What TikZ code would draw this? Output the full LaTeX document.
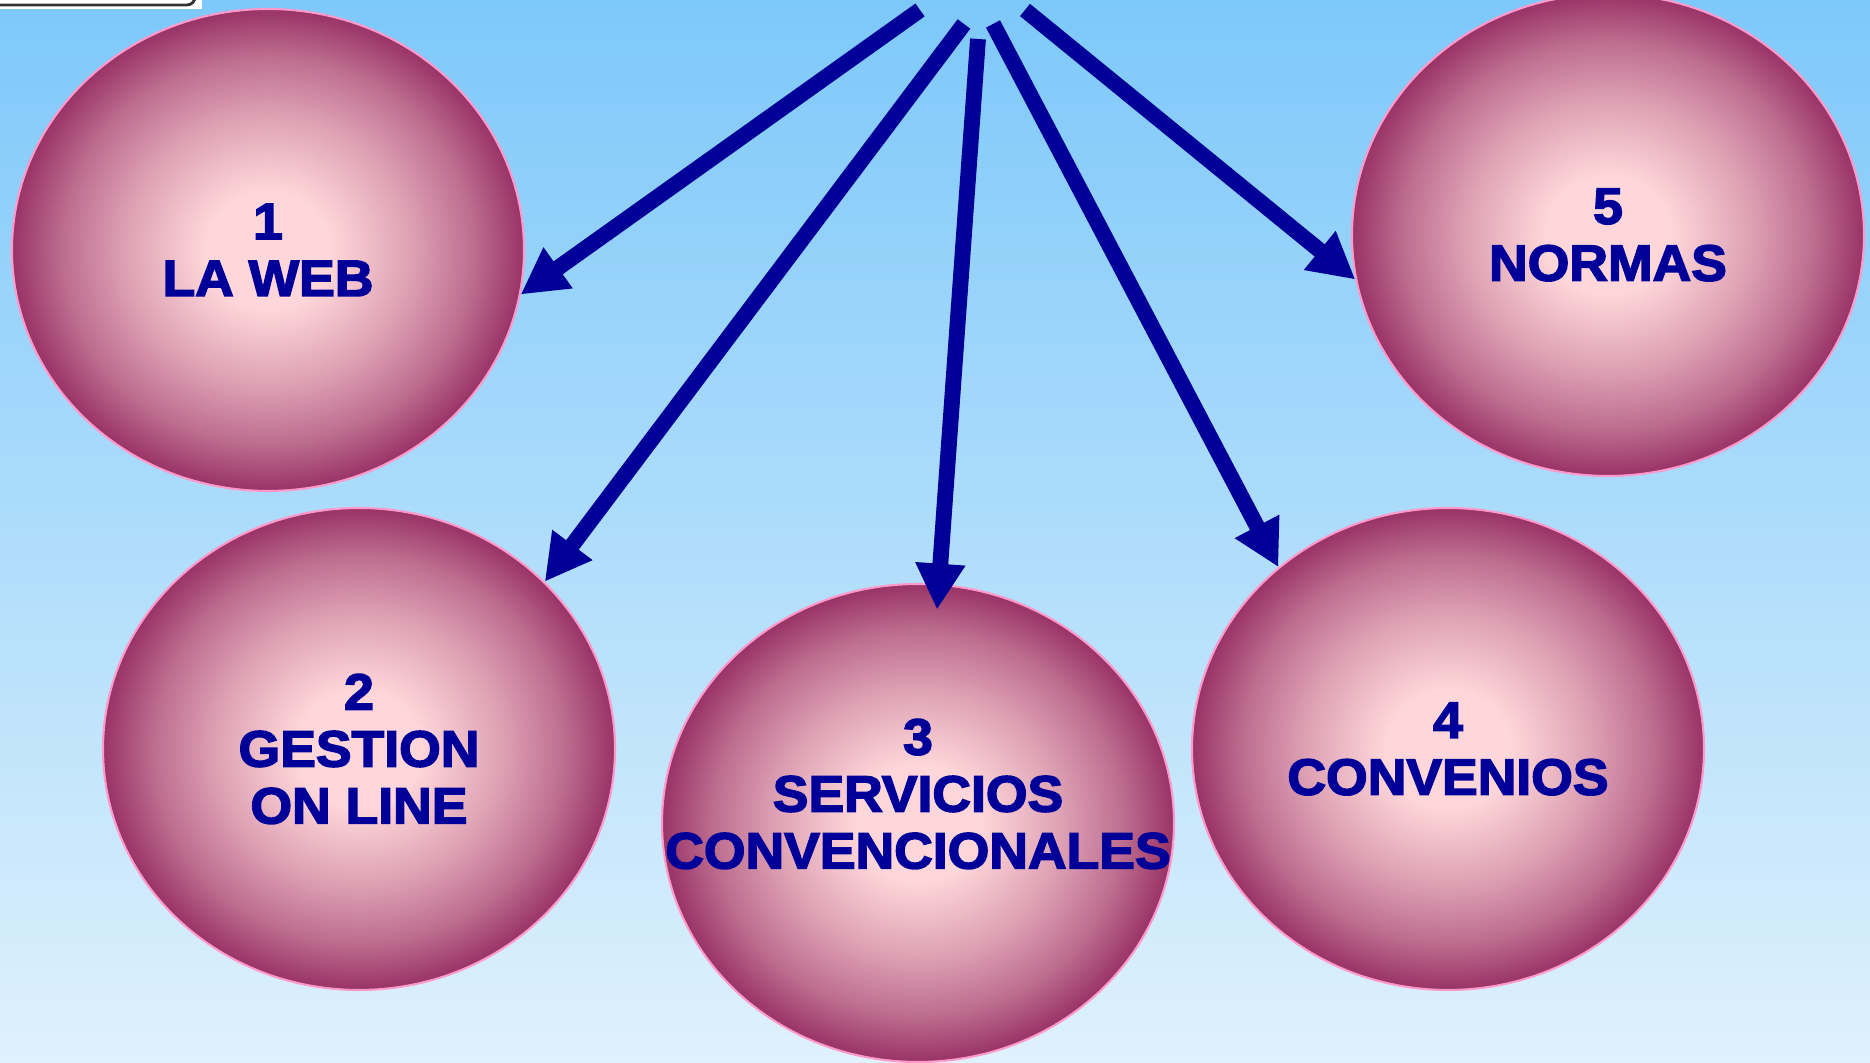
\documentclass[tikz,border=0pt]{standalone}
\usepackage{fontspec}
\newfontfamily\labelfont{Liberation Sans}[BoldFeatures={FakeBold=3, FakeStretch=1.05}]
\usetikzlibrary{shapes.geometric,arrows.meta}
\definecolor{navy}{HTML}{000099}
\definecolor{bgtop}{HTML}{7DC8FA}
\definecolor{bgbot}{HTML}{DFF1FC}
\definecolor{bubblein}{HTML}{FFD7DA}
\definecolor{bubbleout}{HTML}{993366}
\definecolor{bubbleedge}{HTML}{FF99CC}
\pgfdeclareradialshading{bubbleshade}{\pgfpoint{0bp}{0bp}}{color(0bp)=(bubblein); color(6bp)=(bubblein); color(14bp)=(bubblein!67!bubbleout); color(20bp)=(bubblein!36!bubbleout); color(25bp)=(bubbleout); color(50bp)=(bubbleout)}
\begin{document}
\begin{tikzpicture}
        \tikzstyle{bubble} = [draw=bubbleedge, line width=0.6pt, ellipse, minimum width=5.12cm, minimum height=4.82cm, inner sep=0pt, shading=bubbleshade]
        \tikzstyle{tnode} = [text=navy, align=center, inner sep=0pt, font=\labelfont\bfseries\fontsize{14.5}{16.2}\selectfont]
        \tikzstyle{link} = [line width=4.5pt, draw=navy, -{Triangle[length=0.46cm, width=0.47cm]}]
        \useasboundingbox (0,0) rectangle (18.7,10.63);
        \clip (0,0) rectangle (18.7,10.63);
        \shade[top color=bgtop, bottom color=bgbot] (0,0) rectangle (18.7,10.63);
        \fill[white] (0,10.54) rectangle (2.02,10.63);
        \draw[black!80, line width=0.8pt, rounded corners=0.08cm] (-0.2,10.58) rectangle (1.95,11);

        \node[bubble] (e1) at (2.68,8.13) {};
        \node[bubble] (e5) at (16.08,8.28) {};
        \node[bubble] (e2) at (3.59,3.14) {};
        \node[bubble, minimum height=4.78cm] (e3) at (9.18,2.40) {};
        \node[bubble] (e4) at (14.48,3.14) {};

        \node[tnode] (t1) at (e1.center) {1\\LA WEB};
        \node[tnode] (t5) at (e5.center) {5\\NORMAS};
        \node[tnode] (t2) at (e2.center) {2\\GESTION\\ON LINE};
        \node[tnode] (t3) at ([yshift=0.29cm]e3.center) {3\\SERVICIOS\\CONVENCIONALES};
        \node[tnode] (t4) at (e4.center) {4\\CONVENIOS};

        \coordinate (s1) at (9.20,10.53);
        \coordinate (s2) at (9.64,10.39);
        \coordinate (s3) at (9.78,10.24);
        \coordinate (s4) at (9.93,10.39);
        \coordinate (s5) at (10.25,10.53);

        \draw[link] (s1) to (e1.-10);
        \draw[link] (s2) to (e2.42);
        \draw[link, shorten >=-0.26cm] (s3) to (e3.85);
        \draw[link] (s4) to (e4.133);
        \draw[link] (s5) to (e5.190);
      \end{tikzpicture}
\end{document}
